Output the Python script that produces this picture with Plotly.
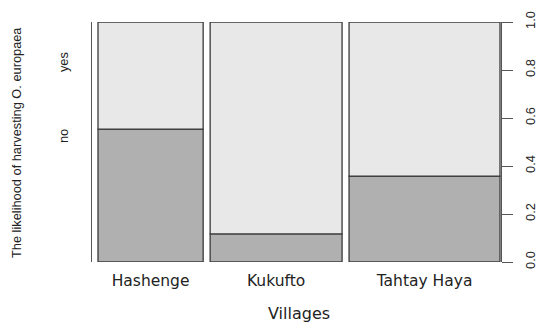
import plotly.graph_objects as go

villages = ["Hashenge", "Kukufto", "Tahtay Haya"]
widths = [0.271, 0.340, 0.389]          # relative share of respondents per village
prop_no = [0.554, 0.117, 0.358]         # proportion "no"
prop_yes = [1 - p for p in prop_no]
gap = 0.018
right_ticks = [0.0, 0.2, 0.4, 0.6, 0.8, 1.0]
right_ticktext = ["0.0", "0.2", "0.4", "0.6", "0.8", "1.0"]

centers = []
pos = 0.0
for w in widths:
    centers.append(pos + w / 2)
    pos += w + gap
total = pos - gap

FONT = "Liberation Sans, Arial, sans-serif"
WIDE = "DejaVu Sans, sans-serif"
edge = dict(color="#3a3a3a", width=1.3)

OFF = 8  # page body margin
L, R, T, B = 92 - OFF, 49, 22 - OFF, 70
W, H = 550 - OFF, 332 - OFF
plot_w = W - L - R
plot_h = H - T - B


def px_x(px):
    return (px - OFF - L) / plot_w


def px_y(py):
    return (H - B - (py - OFF)) / plot_h


fig = go.Figure()
fig.add_trace(go.Bar(x=centers, y=prop_no, width=widths, base=[0] * 3,
                     marker=dict(color="#b0b0b0", line=edge), name="no"))
fig.add_trace(go.Bar(x=centers, y=prop_yes, width=widths, base=prop_no,
                     marker=dict(color="#e8e8e8", line=edge), name="yes"))
fig.add_trace(go.Scatter(x=[centers[0]], y=[0.5], yaxis="y2", mode="markers",
                         marker=dict(opacity=0), showlegend=False, hoverinfo="skip"))

px_per_unit = 388.0
fig.update_layout(
    width=W, height=H,
    margin=dict(l=L, r=R, t=T, b=B, autoexpand=False),
    paper_bgcolor="white", plot_bgcolor="white",
    showlegend=False, barmode="overlay",
    font=dict(family=FONT, size=13, color="#222"),
    xaxis=dict(range=[-6 / px_per_unit, total + 1 / px_per_unit], automargin=False,
               tickvals=centers, ticktext=villages, showgrid=False,
               zeroline=False, showline=False, ticks="", ticklabelstandoff=7,
               tickfont=dict(family=WIDE, size=15.5, color="#222")),
    yaxis=dict(range=[0, 1], showgrid=False, zeroline=False, showline=True, automargin=False,
               linecolor="#555", linewidth=1.3, showticklabels=False, ticks=""),
    yaxis2=dict(range=[0, 1], overlaying="y", side="right", showgrid=False, automargin=False,
                zeroline=False, showline=True, linecolor="#555", linewidth=1.3,
                ticks="outside", ticklen=11, tickcolor="#555", tickwidth=1.2,
                tickvals=right_ticks, ticktext=right_ticktext, tickangle=-90,
                ticklabelstandoff=6, tickfont=dict(size=12.8, color="#222")),
    annotations=[
        dict(text="no", x=px_x(63), y=0.525, xref="paper", yref="y", textangle=-90,
             xanchor="center", yanchor="middle", showarrow=False, font=dict(size=12.8)),
        dict(text="yes", x=px_x(63), y=0.833, xref="paper", yref="y", textangle=-90,
             xanchor="center", yanchor="middle", showarrow=False, font=dict(size=12.8)),
        dict(text="The likelihood of harvesting O. europaea", x=px_x(16), y=px_y(143),
             xref="paper", yref="paper", textangle=-90, xanchor="center", yanchor="middle",
             showarrow=False, font=dict(size=12.8)),
        dict(text="Villages", x=px_x(299), y=px_y(313), xref="paper", yref="paper",
             xanchor="center", yanchor="middle", showarrow=False,
             font=dict(family=WIDE, size=16)),
    ],
)

fig.write_html("out.html")
